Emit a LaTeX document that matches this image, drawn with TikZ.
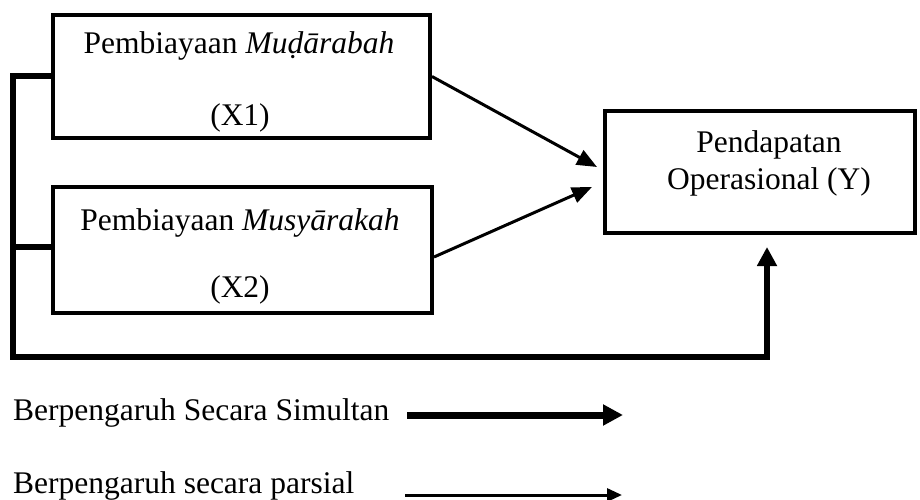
\documentclass[tikz,border=0pt]{standalone}
\usepackage{fontspec}
\setmainfont{Liberation Serif}
\usetikzlibrary{arrows.meta,calc}
\begin{document}
\begin{tikzpicture}[x=1pt,y=-1pt,
  box/.style={draw,line width=4pt,inner sep=0pt},
  txt/.style={inner sep=0pt,anchor=base,font=\fontsize{31.5}{36}\selectfont},
  bracket/.style={line width=6pt},
  partial/.style={line width=3pt,-{Triangle[length=20pt,width=16pt]}},
]
\useasboundingbox (0,0) rectangle (920,500);
\node[box,minimum width=377pt,minimum height=123pt] (X1) at (241.5,76.5) {};
\node[box,minimum width=379pt,minimum height=126pt] (X2) at (242.5,250) {};
\node[box,minimum width=310pt,minimum height=122pt] (Y) at (760,172) {};
\node[txt] (t1a) at (239,54) {Pembiayaan \textit{Muḍārabah}};
\node[txt] (t1b) at (240,125) {(X1)};
\node[txt] (t2a) at (240,230) {Pembiayaan \textit{Musyārakah}};
\node[txt] (t2b) at (240,297) {(X2)};
\node[txt] (ya) at (769,152) {Pendapatan};
\node[txt] (yb) at (769,189) {Operasional (Y)};
\coordinate (bl) at (13,357);
\coordinate (yin) at (767,247);
\coordinate (e1) at (597,167);
\coordinate (e2) at (592,187);
\coordinate (x2b) at ($(X2.west)+(0,-3)$);
\coordinate (x2c) at (13,247);
\draw[bracket] (x2b) -- (x2c);
\draw[bracket,-{Triangle[length=19pt,width=19pt]}] (X1.west) -| (bl) -| (yin);
\draw[partial] (X1.east) -- (e1);
\draw[partial] ($(X2.east)+(0,7)$) -- (e2);
\node[txt,anchor=base west] (l1) at (13,420) {Berpengaruh Secara Simultan};
\node[txt,anchor=base west] (l2) at (13,493) {Berpengaruh secara parsial};
\coordinate (a1s) at (407,415);
\coordinate (a1e) at (623,415);
\coordinate (a2s) at (405,495);
\coordinate (a2e) at (622,495);
\draw[line width=7pt,-{Triangle[length=20pt,width=20pt]}] (a1s) -- (a1e);
\draw[line width=3pt,-{Triangle[length=15pt,width=13pt]}] (a2s) -- (a2e);
\end{tikzpicture}
\end{document}
